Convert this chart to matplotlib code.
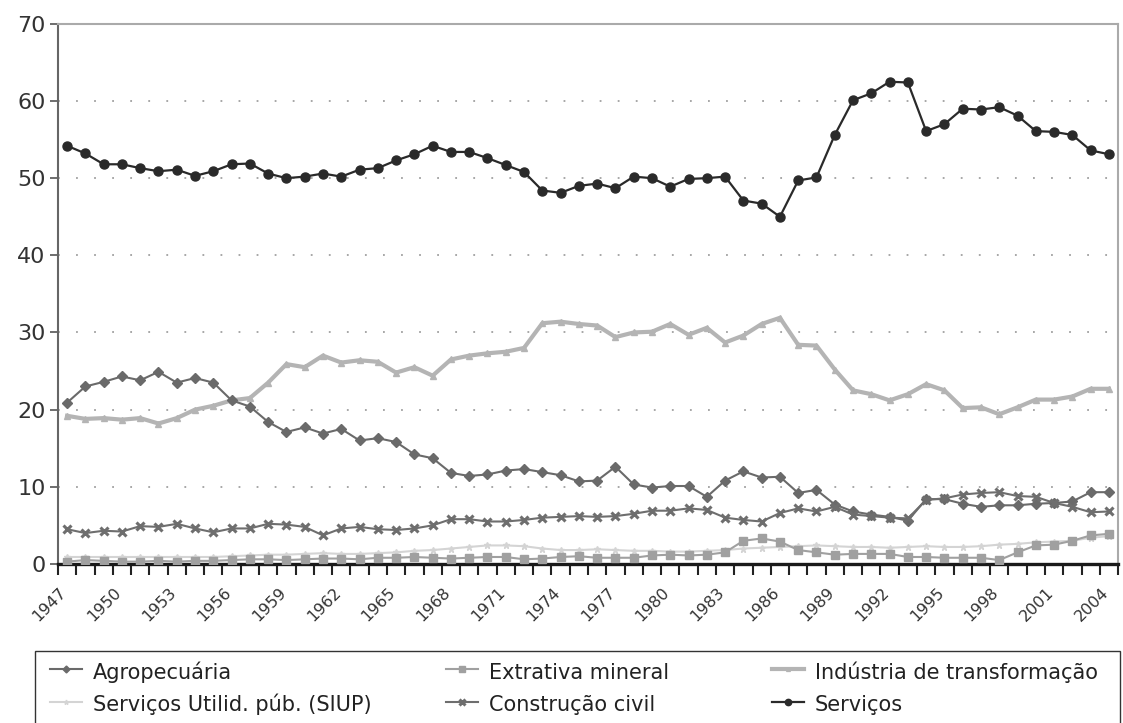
import matplotlib
matplotlib.use('Agg')
import matplotlib.pyplot as plt
from matplotlib.patches import Rectangle
from matplotlib.ticker import FixedLocator, MultipleLocator, NullFormatter

plt.rcParams['font.family'] = ['DejaVu Sans']

years = list(range(1947, 2005))
year_labels = [str(y) for y in range(1947, 2005, 3)]

agropecuaria = [20.9, 23.0, 23.6, 24.3, 23.8, 24.9, 23.5, 24.1, 23.5, 21.2,
                20.4, 18.4, 17.1, 17.7, 16.9, 17.5, 16.0, 16.3, 15.8, 14.2,
                13.7, 11.8, 11.4, 11.6, 12.1, 12.3, 11.9, 11.5, 10.7, 10.8,
                12.6, 10.3, 9.9, 10.1, 10.1, 8.7, 10.8, 12.0, 11.2, 11.3,
                9.2, 9.6, 7.7, 6.8, 6.4, 6.1, 5.6, 8.4, 8.4, 7.8,
                7.4, 7.6, 7.6, 7.8, 7.9, 8.1, 9.3, 9.3]
extrativa = [0.3, 0.5, 0.4, 0.3, 0.3, 0.4, 0.3, 0.4, 0.4, 0.5,
             0.6, 0.6, 0.5, 0.6, 0.7, 0.7, 0.6, 0.8, 0.8, 0.9,
             0.8, 0.7, 0.8, 0.9, 0.9, 0.6, 0.7, 0.9, 1.0, 0.8,
             0.8, 0.8, 1.1, 1.2, 1.1, 1.2, 1.5, 3.0, 3.3, 2.9,
             1.8, 1.5, 1.2, 1.3, 1.3, 1.3, 0.9, 0.9, 0.8, 0.8,
             0.8, 0.5, 1.5, 2.4, 2.5, 3.0, 3.7, 3.9]
industria = [19.2, 18.8, 18.9, 18.7, 18.9, 18.2, 18.9, 20.0, 20.5, 21.2,
             21.5, 23.5, 25.9, 25.5, 27.0, 26.1, 26.4, 26.2, 24.8, 25.5,
             24.4, 26.5, 27.0, 27.3, 27.5, 28.0, 31.2, 31.4, 31.1, 30.9,
             29.4, 30.0, 30.1, 31.1, 29.7, 30.6, 28.7, 29.6, 31.1, 31.9,
             28.4, 28.3, 25.2, 22.5, 22.0, 21.2, 22.0, 23.3, 22.5, 20.2,
             20.3, 19.4, 20.3, 21.3, 21.3, 21.7, 22.7, 22.7]
siup = [0.9, 0.9, 0.9, 0.9, 0.9, 0.9, 0.9, 0.9, 0.9, 1.0,
        1.1, 1.2, 1.2, 1.3, 1.4, 1.3, 1.3, 1.4, 1.5, 1.7,
        1.8, 2.0, 2.2, 2.4, 2.4, 2.3, 2.0, 1.8, 1.8, 1.9,
        1.8, 1.7, 1.7, 1.6, 1.6, 1.7, 1.8, 2.0, 2.1, 2.2,
        2.3, 2.4, 2.3, 2.2, 2.2, 2.1, 2.2, 2.3, 2.2, 2.2,
        2.3, 2.5, 2.6, 2.8, 2.9, 3.0, 3.4, 3.6]
construcao = [4.5, 4.0, 4.3, 4.2, 4.9, 4.8, 5.2, 4.6, 4.1, 4.6,
              4.6, 5.2, 5.1, 4.8, 3.7, 4.6, 4.8, 4.5, 4.4, 4.6,
              5.0, 5.8, 5.8, 5.5, 5.5, 5.7, 6.0, 6.1, 6.2, 6.1,
              6.2, 6.5, 6.9, 6.9, 7.2, 7.0, 6.0, 5.7, 5.5, 6.6,
              7.2, 6.8, 7.4, 6.4, 6.2, 6.0, 5.9, 8.3, 8.5, 9.0,
              9.2, 9.3, 8.8, 8.7, 7.9, 7.4, 6.7, 6.8]
servicos = [54.2, 53.2, 51.8, 51.8, 51.3, 50.9, 51.1, 50.3, 50.9, 51.8,
            51.9, 50.6, 50.0, 50.2, 50.6, 50.2, 51.1, 51.3, 52.3, 53.1,
            54.2, 53.4, 53.4, 52.6, 51.7, 50.8, 48.4, 48.1, 49.0, 49.3,
            48.7, 50.2, 50.0, 48.9, 49.9, 50.0, 50.2, 47.1, 46.7, 45.0,
            49.7, 50.1, 55.6, 60.1, 61.0, 62.5, 62.4, 56.1, 57.0, 59.0,
            58.9, 59.2, 58.1, 56.1, 56.0, 55.6, 53.6, 53.1]


def sector_plot(img_file_name):
    fig = plt.figure(figsize=(11.23, 7.23), dpi=100)
    ax = fig.add_axes([0.0516, 0.22, 0.944, 0.747])

    # horizontal dotted grid
    for v in range(10, 70, 10):
        ax.axhline(v, color='#a0a0a0', linestyle=(0, (1, 9)), linewidth=1.3, zorder=0)

    ax.plot(years, siup, '*-', color='#d4d4d4', linewidth=1.5, markersize=5,
            label='Serviços Utilid. púb. (SIUP)', zorder=2)
    ax.plot(years, extrativa, 's-', color='#a0a0a0', linewidth=1.5, markersize=6,
            label='Extrativa mineral', zorder=3)
    ax.plot(years, industria, '^-', color='#b4b4b4', linewidth=3, markersize=4,
            label='Indústria de transformação', zorder=3)
    ax.plot(years, agropecuaria, 'D-', color='#6a6a6a', linewidth=1.5, markersize=5,
            label='Agropecuária', zorder=4)
    ax.plot(years, construcao, 'x-', color='#6e6e6e', linewidth=1.5, markersize=6,
            markeredgewidth=2.2, label='Construção civil', zorder=4)
    ax.plot(years, servicos, 'o-', color='#2a2a2a', linewidth=1.6, markersize=6.5,
            label='Serviços', zorder=5)

    # axes
    ax.set_xlim(1946.5, 2004.5)
    ax.set_ylim(0, 70)
    ax.yaxis.set_major_locator(MultipleLocator(10))
    # labels sit a bit left of the year (rotated text, right end near the point)
    ax.xaxis.set_major_locator(FixedLocator([y - 0.45 for y in range(1947, 2005, 3)]))
    ax.set_xticklabels(year_labels, rotation=45, ha='right', va='top',
                       rotation_mode='anchor', fontsize=11.5, color='#333333')
    ax.xaxis.set_minor_locator(FixedLocator([y + 0.5 for y in range(1946, 2005)]))
    ax.xaxis.set_minor_formatter(NullFormatter())
    ax.tick_params(axis='x', which='major', length=0, pad=15)
    ax.tick_params(axis='x', which='minor', length=8, width=1.5, color='#222222')
    ax.tick_params(axis='y', length=6, width=1.2, color='#555555',
                   labelsize=16, labelcolor='#333333', pad=3)

    ax.spines['bottom'].set_linewidth(2.4)
    ax.spines['bottom'].set_color('#1a1a1a')
    ax.spines['left'].set_linewidth(1.5)
    ax.spines['left'].set_color('#666666')
    for s in ['top', 'right']:
        ax.spines[s].set_linewidth(1.5)
        ax.spines[s].set_color('#aaaaaa')

    # legend: three columns, one box round them
    handles, labels = ax.get_legend_handles_labels()
    hd = dict(zip(labels, handles))
    columns = [(['Agropecuária', 'Serviços Utilid. púb. (SIUP)'], 50),
               (['Extrativa mineral', 'Construção civil'], 446),
               (['Indústria de transformação', 'Serviços'], 772)]
    for names, x_px in columns:
        leg = fig.legend([hd[k] for k in names], names, loc='upper left',
                         bbox_to_anchor=(x_px / 1123, 1 - 660 / 723),
                         frameon=False, fontsize=15, handlelength=1.55,
                         handleheight=1.35, handletextpad=0.5, borderpad=0,
                         borderaxespad=0, labelspacing=0.45, markerscale=0.7)
        for t in leg.get_texts():
            t.set_color('#222222')
    fig.patches.append(Rectangle((35 / 1123, -0.01), 1085 / 1123, 0.01 + 72 / 723,
                                 transform=fig.transFigure, fill=False,
                                 edgecolor='#333333', linewidth=1.0))

    plt.savefig(img_file_name, dpi=100)


if __name__ == '__main__':
    sector_plot('out.png')
